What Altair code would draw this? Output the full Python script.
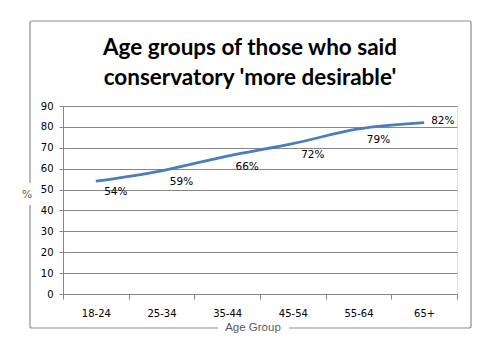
import altair as alt
import pandas as pd

age_groups = ["18-24", "25-34", "35-44", "45-54", "55-64", "65+"]
percent = [54, 59, 66, 72, 79, 82]
y_ticks = [0, 10, 20, 30, 40, 50, 60, 70, 80, 90]
title_lines = ["Age groups of those who said", "conservatory 'more desirable'"]

df = pd.DataFrame({"age": age_groups, "pct": percent})
df["label"] = [f"{v}%" for v in percent]
one = pd.DataFrame({"k": [0]})

W, H = 394, 188
LEFT, TOP = 63, 106

x_enc = alt.X("age:N", sort=age_groups, title=None,
              axis=alt.Axis(labelAngle=0, labelFont="DejaVu Sans", labelFontSize=10,
                            labelColor="#000000", labelPadding=9, tickBand="extent",
                            tickSize=5, tickColor="#868686", domainColor="#868686",
                            grid=False))
y_enc = alt.Y("pct:Q", title=None,
              scale=alt.Scale(domain=[0, 90], nice=False),
              axis=alt.Axis(values=y_ticks, labelFont="DejaVu Sans", labelFontSize=10,
                            labelColor="#000000", labelPadding=6, tickSize=4,
                            labelOverlap=False,
                            tickColor="#868686", domainColor="#868686",
                            gridColor="#868686", gridWidth=1))

base = alt.Chart(df)
deco = alt.Chart(one)

border = deco.mark_rect(fill=None, stroke="#8c8c8c", strokeWidth=1.2, cornerRadius=2).encode(
    x=alt.value(30 - LEFT), x2=alt.value(471 - LEFT),
    y=alt.value(21 - TOP), y2=alt.value(328 - TOP))

patch_pct = deco.mark_rect(fill="white").encode(
    x=alt.value(22 - LEFT), x2=alt.value(34 - LEFT),
    y=alt.value(183 - TOP), y2=alt.value(205 - TOP))
patch_age = deco.mark_rect(fill="white").encode(
    x=alt.value(218 - LEFT), x2=alt.value(289 - LEFT),
    y=alt.value(320 - TOP), y2=alt.value(336 - TOP))

line = base.mark_line(color="#4A7EBB", strokeWidth=2.8, interpolate="monotone").encode(
    x=x_enc, y=y_enc)

labels_below = base.mark_text(font="DejaVu Sans", fontSize=10.5, color="#000000",
                              dx=20, dy=11).encode(
    x=x_enc, y=y_enc, text="label:N"
).transform_filter(alt.datum.age != "65+")

label_last = base.mark_text(font="DejaVu Sans", fontSize=10.5, color="#000000",
                            align="left", dx=7, dy=-2).encode(
    x=x_enc, y=y_enc, text="label:N"
).transform_filter(alt.datum.age == "65+")

y_title = deco.mark_text(text="%", font="DejaVu Sans", fontSize=11, color="#595959").encode(
    x=alt.value(27 - LEFT), y=alt.value(195 - TOP))
x_title = deco.mark_text(text="Age Group", font="Liberation Sans", fontSize=11.5,
                         color="#595959").encode(
    x=alt.value(253 - LEFT), y=alt.value(328 - TOP))

t1 = deco.mark_text(text=title_lines[0], font="Lato", fontSize=22.5, fontWeight="bold",
                    color="#000000").encode(x=alt.value(250 - LEFT), y=alt.value(48 - TOP))
t2 = deco.mark_text(text=title_lines[1], font="Lato", fontSize=22.5, fontWeight="bold",
                    color="#000000").encode(x=alt.value(250 - LEFT), y=alt.value(78 - TOP))

chart = alt.layer(border, patch_pct, patch_age, line, labels_below, label_last,
                  y_title, x_title, t1, t2).properties(
    width=W, height=H,
    autosize=alt.AutoSizeParams(type="none"),
    padding={"left": LEFT, "top": TOP, "right": 500 - LEFT - W, "bottom": 350 - TOP - H},
).configure_view(stroke=None).configure(background="white")

chart.save("out.html", embed_options={"renderer": "svg", "actions": False})
